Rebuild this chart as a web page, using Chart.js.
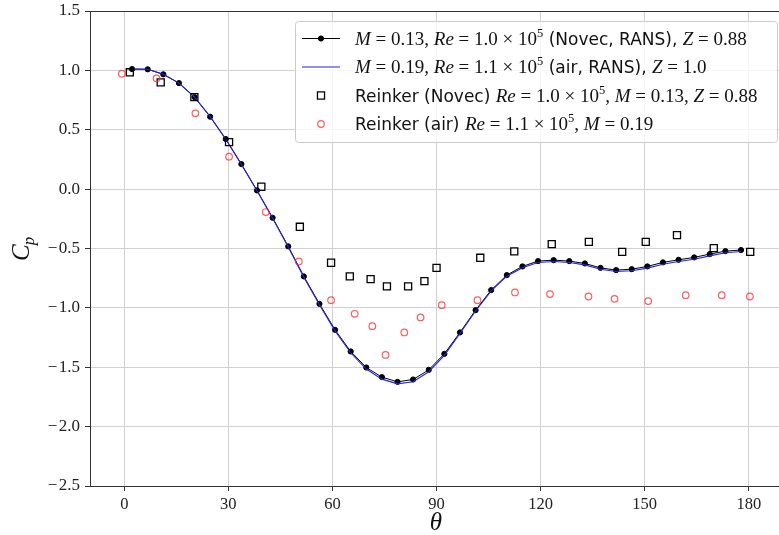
<!DOCTYPE html>
<html>
<head>
<meta charset="utf-8">
<script src="https://cdn.jsdelivr.net/npm/chart.js@4.4.0/dist/chart.umd.min.js"></script>
<style>
html, body { margin: 0; padding: 0; background: #fff; }
</style>
</head>
<body>
<canvas id="cp-chart" width="779" height="535"></canvas>
<script>
// RANS solutions (cell centres every 4.5 deg)
const THETA_RANS = [2.25, 6.75, 11.25, 15.75, 20.25, 24.75, 29.25, 33.75, 38.25, 42.75,
    47.25, 51.75, 56.25, 60.75, 65.25, 69.75, 74.25, 78.75, 83.25, 87.75,
    92.25, 96.75, 101.25, 105.75, 110.25, 114.75, 119.25, 123.75, 128.25, 132.75,
    137.25, 141.75, 146.25, 150.75, 155.25, 159.75, 164.25, 168.75, 173.25, 177.75];
const CP_NOVEC_RANS = [1.011, 1.009, 0.967, 0.893, 0.775, 0.610, 0.422, 0.211, -0.011, -0.241,
    -0.482, -0.735, -0.966, -1.185, -1.367, -1.502, -1.583, -1.623, -1.603, -1.522,
    -1.387, -1.207, -1.019, -0.850, -0.724, -0.651, -0.606, -0.598, -0.606, -0.626,
    -0.663, -0.682, -0.674, -0.651, -0.617, -0.595, -0.575, -0.547, -0.522, -0.513];
const CP_AIR_RANS = [1.011, 1.009, 0.967, 0.893, 0.775, 0.610, 0.420, 0.208, -0.014, -0.245,
    -0.487, -0.741, -0.973, -1.194, -1.378, -1.515, -1.600, -1.640, -1.622, -1.538,
    -1.400, -1.216, -1.026, -0.857, -0.733, -0.662, -0.618, -0.610, -0.618, -0.638,
    -0.675, -0.694, -0.687, -0.665, -0.632, -0.610, -0.590, -0.562, -0.536, -0.525];

// Reinker experiments
const THETA_REINKER_NOVEC = [1.6, 10.5, 20.2, 30.2, 39.5, 50.6, 59.6, 65.0, 71.0, 75.7, 81.8,
    86.5, 90.0, 102.6, 112.4, 123.2, 133.9, 143.5, 150.3, 159.3, 169.9, 180.4];
const CP_REINKER_NOVEC = [0.984, 0.899, 0.775, 0.396, 0.020, -0.317, -0.620, -0.735, -0.758, -0.819, -0.819,
    -0.775, -0.663, -0.578, -0.524, -0.463, -0.444, -0.528, -0.444, -0.387, -0.497, -0.528];
const THETA_REINKER_AIR = [-0.7, 9.3, 20.5, 30.2, 40.8, 50.3, 59.6, 66.4, 71.5, 75.3, 80.7,
    85.4, 91.5, 101.8, 112.6, 122.7, 133.8, 141.3, 151.0, 161.8, 172.2, 180.3];
const CP_REINKER_AIR = [0.972, 0.933, 0.638, 0.273, -0.193, -0.609, -0.935, -1.050, -1.154, -1.396, -1.207,
    -1.080, -0.977, -0.935, -0.870, -0.884, -0.904, -0.924, -0.943, -0.893, -0.893, -0.904];

const X_TICKS = [0, 30, 60, 90, 120, 150, 180];

// legend text: [text, kind]  i = math italic, r = math roman, s = superscript, t = text
const LEGEND_ROWS = [
    [['M', 'i'], [' = 0.13, ', 'r'], ['Re', 'i'], [' = 1.0 \u00d7 10', 'r'], ['5', 's'], [' (Novec, RANS), ', 't'], ['Z', 'i'], [' = 0.88', 'r']],
    [['M', 'i'], [' = 0.19, ', 'r'], ['Re', 'i'], [' = 1.1 \u00d7 10', 'r'], ['5', 's'], [' (air, RANS), ', 't'], ['Z', 'i'], [' = 1.0', 'r']],
    [['Reinker (Novec) ', 't'], ['Re', 'i'], [' = 1.0 \u00d7 10', 'r'], ['5', 's'], [', ', 'r'], ['M', 'i'], [' = 0.13, ', 'r'], ['Z', 'i'], [' = 0.88', 'r']],
    [['Reinker (air) ', 't'], ['Re', 'i'], [' = 1.1 \u00d7 10', 'r'], ['5', 's'], [', ', 'r'], ['M', 'i'], [' = 0.19', 'r']]
];

function pts(xs, ys) {
    return xs.map((x, i) => ({x: x, y: ys[i]}));
}

const FONTS = {
    i: 'italic 19px "Liberation Serif"',
    r: '19px "Liberation Serif"',
    s: '12.5px "Liberation Serif"',
    t: '17px "DejaVu Sans"'
};

const texLegend = {
    id: 'texLegend',
    afterDraw(chart) {
        const ctx = chart.ctx;
        ctx.save();
        // axis titles
        ctx.fillStyle = '#111';
        ctx.textAlign = 'center';
        ctx.textBaseline = 'alphabetic';
        ctx.font = 'italic 25px "Liberation Serif"';
        ctx.fillText('\u03b8', 436, 530);
        ctx.translate(29, 250);
        ctx.rotate(-Math.PI / 2);
        ctx.textAlign = 'left';
        ctx.font = 'italic 25px "Liberation Serif"';
        let cw = ctx.measureText('C').width;
        ctx.fillText('C', -11, 0);
        ctx.font = 'italic 17px "Liberation Serif"';
        ctx.fillText('p', -11 + cw - 1, 5);
        ctx.restore();

        ctx.save();
        ctx.fillStyle = 'rgba(255,255,255,0.8)';
        ctx.strokeStyle = '#cccccc';
        ctx.lineWidth = 1;
        ctx.beginPath();
        if (ctx.roundRect) ctx.roundRect(295.5, 21.5, 482, 121, 3);
        else ctx.rect(295.5, 21.5, 482, 121);
        ctx.fill();
        ctx.stroke();

        const rowsY = [38.5, 67, 95.5, 124];
        const handleOf = [1, 0, 2, 3];
        rowsY.forEach((ry, r) => {
            const ds = chart.data.datasets[handleOf[r]];
            if (ds.showLine) {
                ctx.strokeStyle = ds.borderColor;
                ctx.lineWidth = ds.borderWidth;
                ctx.beginPath();
                ctx.moveTo(302, ry);
                ctx.lineTo(340, ry);
                ctx.stroke();
            }
            if (ds.pointRadius > 0) {
                ctx.fillStyle = ds.pointBackgroundColor;
                ctx.strokeStyle = ds.pointBorderColor;
                ctx.lineWidth = ds.pointBorderWidth;
                Chart.helpers.drawPoint(ctx, {
                    pointStyle: ds.pointStyle, radius: ds.pointRadius, rotation: 0,
                    borderWidth: ds.pointBorderWidth
                }, 321, ry);
            }
            let x = 355;
            const base = ry + 6;
            ctx.fillStyle = '#111';
            ctx.textAlign = 'left';
            LEGEND_ROWS[r].forEach(seg => {
                ctx.font = FONTS[seg[1]];
                ctx.fillText(seg[0], x, seg[1] === 's' ? base - 8 : base);
                x += ctx.measureText(seg[0]).width;
            });
        });
        ctx.restore();
    }
};

const ctx = document.getElementById('cp-chart');
new Chart(ctx, {
    type: 'scatter',
    data: {
        datasets: [{
            label: 'air RANS',
            data: pts(THETA_RANS, CP_AIR_RANS),
            showLine: true,
            borderColor: '#2323e0',
            borderWidth: 1.1,
            pointRadius: 0,
            tension: 0,
            order: 0
        }, {
            label: 'Novec RANS',
            data: pts(THETA_RANS, CP_NOVEC_RANS),
            showLine: true,
            borderColor: '#000000',
            borderWidth: 1,
            pointRadius: 2.6,
            pointStyle: 'circle',
            pointBackgroundColor: '#000000',
            pointBorderColor: '#000000',
            pointBorderWidth: 1,
            tension: 0,
            order: 1
        }, {
            label: 'Reinker Novec',
            data: pts(THETA_REINKER_NOVEC, CP_REINKER_NOVEC),
            showLine: false,
            pointStyle: 'rect',
            pointRadius: 5,
            pointBackgroundColor: 'rgba(255,255,255,0)',
            pointBorderColor: '#000000',
            pointBorderWidth: 1.3,
            order: -1
        }, {
            label: 'Reinker air',
            data: pts(THETA_REINKER_AIR, CP_REINKER_AIR),
            showLine: false,
            pointStyle: 'circle',
            pointRadius: 3.3,
            pointBackgroundColor: 'rgba(255,255,255,0)',
            pointBorderColor: 'rgba(255,40,40,0.75)',
            pointBorderWidth: 1.2,
            order: -2
        }]
    },
    options: {
        responsive: false,
        animation: false,
        devicePixelRatio: 1,
        layout: { autoPadding: false, padding: { top: 11, left: 0, right: 0, bottom: 0 } },
        plugins: { legend: { display: false }, tooltip: { enabled: false } },
        scales: {
            x: {
                type: 'linear',
                min: -9.88,
                max: 188.7,
                afterBuildTicks: scale => { scale.ticks = X_TICKS.map(v => ({value: v})); },
                afterFit: scale => {
                    scale.height = 49;
                    scale.paddingLeft = 0;
                    scale.paddingRight = 0;
                },
                grid: { color: '#d0d0d0', lineWidth: 1, tickColor: '#333', tickLength: 5 },
                border: { color: '#333', width: 1 },
                ticks: {
                    color: '#222', padding: 4,
                    font: { family: 'Liberation Serif', size: 16.5 },
                    callback: v => String(v)
                }
            },
            y: {
                min: -2.5,
                max: 1.5,
                afterFit: scale => {
                    scale.width = 90;
                    scale.paddingTop = 0;
                    scale.paddingBottom = 0;
                },
                grid: {
                    color: c => (c.tick && c.tick.value === 1.5) ? '#333' : '#d0d0d0',
                    lineWidth: 1, tickColor: '#333', tickLength: 5
                },
                border: { color: '#333', width: 1 },
                ticks: {
                    color: '#222', padding: 5, stepSize: 0.5,
                    font: { family: 'Liberation Serif', size: 17 },
                    callback: v => (v < 0 ? '\u2212\u200a' : '') + Math.abs(v).toFixed(1)
                }
            }
        }
    },
    plugins: [texLegend]
});
</script>
</body>
</html>
